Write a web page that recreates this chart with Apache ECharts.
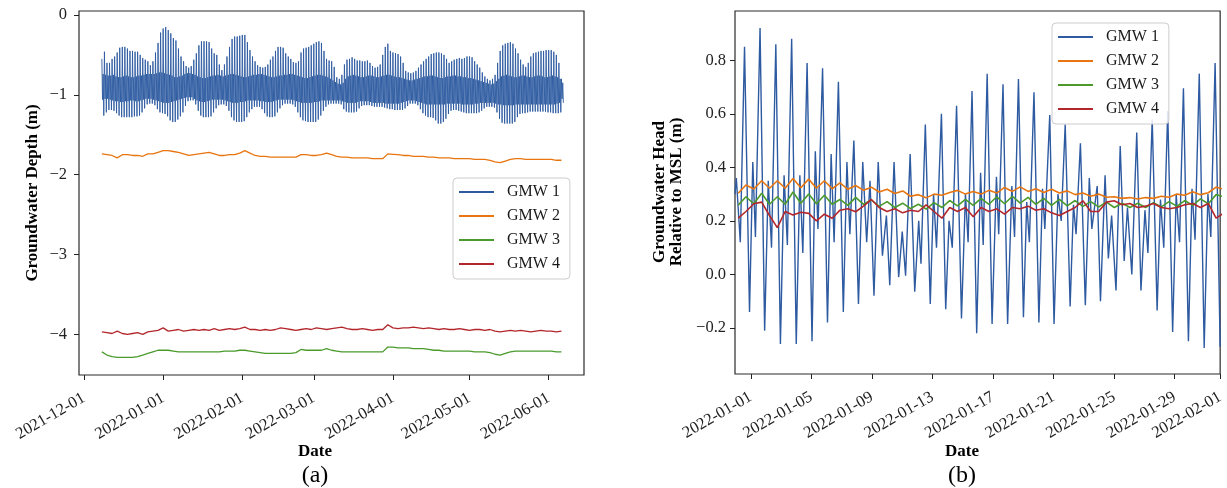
<!DOCTYPE html>
<html><head><meta charset="utf-8">
<script src="https://cdn.jsdelivr.net/npm/echarts@6/dist/echarts.min.js"></script>
<style>html,body{margin:0;padding:0;background:#fff}#c{width:1227px;height:488px}</style>
</head><body><div id="c"></div>
<script>
// ---------- shared ----------
const seriesNames = ['GMW 1', 'GMW 2', 'GMW 3', 'GMW 4'];
const colors = ['#2d5aa0', '#e8750f', '#4a9a2c', '#b3262b'];

// ---------- panel (a): daily values from 2021-12-08 to 2022-06-06 ----------
const aFirstDay = '2021-12-08';
// GMW 1 daily tidal extremes: upper spike, secondary low, secondary high, lower spike
const aHigh = [
-0.55,-0.46,-0.60,-0.60,-0.55,-0.52,-0.47,-0.41,-0.40,-0.40,
-0.42,-0.45,-0.45,-0.46,-0.46,-0.50,-0.54,-0.56,-0.58,-0.63,
-0.58,-0.47,-0.35,-0.22,-0.17,-0.15,-0.19,-0.23,-0.29,-0.32,
-0.42,-0.52,-0.58,-0.64,-0.66,-0.64,-0.56,-0.48,-0.38,-0.33,
-0.33,-0.33,-0.34,-0.42,-0.48,-0.50,-0.62,-0.69,-0.62,-0.52,
-0.40,-0.30,-0.27,-0.27,-0.26,-0.25,-0.25,-0.34,-0.44,-0.52,
-0.58,-0.63,-0.65,-0.66,-0.65,-0.62,-0.56,-0.52,-0.45,-0.40,
-0.40,-0.41,-0.48,-0.52,-0.55,-0.59,-0.60,-0.58,-0.47,-0.42,
-0.41,-0.40,-0.38,-0.36,-0.34,-0.33,-0.35,-0.45,-0.55,-0.57,
-0.58,-0.65,-0.78,-0.80,-0.75,-0.62,-0.56,-0.55,-0.53,-0.55,
-0.57,-0.57,-0.58,-0.58,-0.57,-0.60,-0.64,-0.66,-0.65,-0.62,
-0.50,-0.40,-0.36,-0.45,-0.47,-0.48,-0.49,-0.52,-0.60,-0.70,
-0.72,-0.73,-0.72,-0.70,-0.66,-0.62,-0.58,-0.55,-0.52,-0.49,
-0.48,-0.47,-0.47,-0.48,-0.50,-0.55,-0.60,-0.58,-0.56,-0.55,
-0.54,-0.55,-0.54,-0.52,-0.52,-0.53,-0.58,-0.62,-0.66,-0.72,
-0.77,-0.80,-0.82,-0.80,-0.75,-0.60,-0.45,-0.38,-0.36,-0.35,
-0.34,-0.36,-0.42,-0.48,-0.56,-0.62,-0.65,-0.60,-0.52,-0.48,
-0.47,-0.46,-0.45,-0.45,-0.44,-0.44,-0.44,-0.46,-0.50,-0.60,
-0.80];
const aCoreLow = [
-1.06,-1.05,-1.05,-1.06,-1.07,-1.08,-1.08,-1.09,-1.09,-1.08,
-1.08,-1.07,-1.07,-1.08,-1.08,-1.07,-1.06,-1.05,-1.05,-1.05,
-1.06,-1.07,-1.08,-1.09,-1.10,-1.10,-1.10,-1.09,-1.08,-1.07,
-1.06,-1.05,-1.04,-1.03,-1.03,-1.03,-1.05,-1.07,-1.08,-1.09,
-1.09,-1.08,-1.07,-1.06,-1.06,-1.06,-1.06,-1.06,-1.07,-1.08,
-1.09,-1.10,-1.10,-1.10,-1.09,-1.09,-1.08,-1.07,-1.07,-1.07,
-1.07,-1.07,-1.08,-1.08,-1.09,-1.09,-1.09,-1.08,-1.07,-1.06,
-1.06,-1.06,-1.06,-1.06,-1.06,-1.07,-1.08,-1.09,-1.10,-1.10,
-1.10,-1.10,-1.10,-1.09,-1.09,-1.08,-1.07,-1.07,-1.07,-1.07,
-1.07,-1.07,-1.07,-1.07,-1.08,-1.09,-1.10,-1.10,-1.10,-1.10,
-1.09,-1.08,-1.08,-1.08,-1.08,-1.09,-1.10,-1.10,-1.10,-1.10,
-1.10,-1.11,-1.11,-1.11,-1.11,-1.11,-1.11,-1.10,-1.09,-1.08,
-1.07,-1.07,-1.07,-1.08,-1.09,-1.10,-1.11,-1.12,-1.12,-1.12,
-1.12,-1.12,-1.12,-1.12,-1.12,-1.11,-1.11,-1.11,-1.11,-1.11,
-1.11,-1.12,-1.12,-1.12,-1.12,-1.12,-1.11,-1.11,-1.10,-1.10,
-1.10,-1.10,-1.10,-1.10,-1.11,-1.12,-1.12,-1.13,-1.13,-1.13,
-1.13,-1.13,-1.12,-1.12,-1.12,-1.12,-1.12,-1.12,-1.12,-1.12,
-1.12,-1.12,-1.12,-1.12,-1.12,-1.12,-1.12,-1.12,-1.11,-1.10,
-1.05];
const aCoreHigh = [
-0.74,-0.75,-0.76,-0.76,-0.75,-0.77,-0.78,-0.78,-0.77,-0.76,
-0.77,-0.78,-0.78,-0.77,-0.76,-0.76,-0.75,-0.74,-0.74,-0.74,
-0.74,-0.73,-0.72,-0.72,-0.73,-0.74,-0.75,-0.76,-0.78,-0.78,
-0.77,-0.76,-0.74,-0.73,-0.73,-0.74,-0.75,-0.77,-0.78,-0.79,
-0.79,-0.78,-0.77,-0.76,-0.76,-0.75,-0.76,-0.77,-0.76,-0.75,
-0.74,-0.74,-0.75,-0.76,-0.77,-0.78,-0.78,-0.77,-0.76,-0.75,
-0.75,-0.74,-0.74,-0.75,-0.76,-0.77,-0.78,-0.78,-0.77,-0.76,
-0.76,-0.75,-0.75,-0.74,-0.74,-0.75,-0.76,-0.77,-0.78,-0.79,
-0.79,-0.78,-0.77,-0.76,-0.75,-0.75,-0.76,-0.77,-0.78,-0.80,
-0.82,-0.84,-0.86,-0.87,-0.85,-0.80,-0.77,-0.76,-0.75,-0.76,
-0.77,-0.78,-0.78,-0.77,-0.76,-0.76,-0.77,-0.78,-0.78,-0.77,
-0.76,-0.75,-0.75,-0.76,-0.77,-0.78,-0.78,-0.79,-0.80,-0.81,
-0.82,-0.82,-0.81,-0.80,-0.79,-0.78,-0.77,-0.77,-0.76,-0.76,
-0.77,-0.78,-0.79,-0.79,-0.78,-0.77,-0.77,-0.76,-0.76,-0.77,
-0.77,-0.78,-0.78,-0.79,-0.79,-0.80,-0.81,-0.82,-0.83,-0.84,
-0.85,-0.86,-0.87,-0.86,-0.83,-0.80,-0.77,-0.76,-0.75,-0.76,
-0.77,-0.78,-0.78,-0.77,-0.76,-0.76,-0.77,-0.78,-0.78,-0.77,
-0.76,-0.76,-0.77,-0.78,-0.78,-0.77,-0.76,-0.77,-0.78,-0.80,
-0.85];
const aLow = [
-1.26,-1.22,-1.19,-1.19,-1.20,-1.23,-1.26,-1.28,-1.28,-1.28,
-1.28,-1.28,-1.27,-1.27,-1.26,-1.22,-1.17,-1.12,-1.11,-1.11,
-1.13,-1.18,-1.22,-1.23,-1.24,-1.27,-1.32,-1.34,-1.34,-1.31,
-1.27,-1.22,-1.14,-1.08,-1.07,-1.07,-1.12,-1.20,-1.26,-1.28,
-1.28,-1.28,-1.27,-1.22,-1.17,-1.13,-1.12,-1.12,-1.14,-1.20,
-1.28,-1.32,-1.34,-1.34,-1.34,-1.33,-1.28,-1.22,-1.18,-1.15,
-1.15,-1.15,-1.18,-1.23,-1.27,-1.28,-1.28,-1.27,-1.22,-1.17,
-1.13,-1.11,-1.11,-1.11,-1.12,-1.15,-1.22,-1.28,-1.32,-1.33,
-1.34,-1.34,-1.34,-1.34,-1.31,-1.26,-1.20,-1.15,-1.12,-1.11,
-1.11,-1.11,-1.11,-1.12,-1.18,-1.21,-1.22,-1.22,-1.22,-1.21,
-1.17,-1.14,-1.13,-1.13,-1.13,-1.14,-1.15,-1.15,-1.15,-1.15,
-1.16,-1.17,-1.18,-1.18,-1.19,-1.19,-1.19,-1.19,-1.17,-1.14,
-1.11,-1.11,-1.11,-1.13,-1.18,-1.23,-1.26,-1.28,-1.28,-1.29,
-1.32,-1.36,-1.36,-1.34,-1.30,-1.24,-1.20,-1.19,-1.19,-1.20,
-1.21,-1.22,-1.23,-1.23,-1.23,-1.23,-1.23,-1.22,-1.20,-1.17,
-1.15,-1.15,-1.15,-1.16,-1.22,-1.30,-1.35,-1.36,-1.36,-1.36,
-1.36,-1.34,-1.28,-1.24,-1.23,-1.23,-1.22,-1.21,-1.21,-1.21,
-1.21,-1.21,-1.21,-1.21,-1.22,-1.22,-1.23,-1.23,-1.23,-1.22,
-1.10];
// GMW 2-4 every second day from 2021-12-08
const aGMW2 = [
-1.74,-1.75,-1.76,-1.79,-1.75,-1.75,-1.76,-1.76,-1.77,-1.74,
-1.74,-1.72,-1.70,-1.70,-1.71,-1.72,-1.74,-1.76,-1.75,-1.74,
-1.73,-1.72,-1.74,-1.76,-1.76,-1.75,-1.75,-1.73,-1.70,-1.73,
-1.76,-1.77,-1.77,-1.78,-1.78,-1.78,-1.78,-1.78,-1.78,-1.75,
-1.75,-1.76,-1.76,-1.75,-1.73,-1.75,-1.77,-1.78,-1.78,-1.79,
-1.79,-1.79,-1.79,-1.80,-1.80,-1.80,-1.74,-1.745,-1.75,-1.76,
-1.76,-1.77,-1.77,-1.77,-1.78,-1.78,-1.79,-1.79,-1.79,-1.80,
-1.80,-1.80,-1.80,-1.81,-1.81,-1.81,-1.82,-1.84,-1.85,-1.83,
-1.81,-1.80,-1.80,-1.81,-1.81,-1.81,-1.81,-1.81,-1.81,-1.82,
-1.82];
const aGMW3 = [
-4.22,-4.26,-4.28,-4.29,-4.29,-4.29,-4.29,-4.28,-4.26,-4.24,
-4.22,-4.20,-4.20,-4.20,-4.21,-4.22,-4.22,-4.22,-4.22,-4.22,
-4.22,-4.22,-4.22,-4.22,-4.21,-4.21,-4.21,-4.20,-4.20,-4.21,
-4.22,-4.23,-4.24,-4.24,-4.24,-4.24,-4.24,-4.24,-4.23,-4.19,
-4.20,-4.20,-4.20,-4.20,-4.18,-4.20,-4.21,-4.22,-4.22,-4.22,
-4.22,-4.22,-4.22,-4.22,-4.22,-4.22,-4.16,-4.16,-4.17,-4.17,
-4.17,-4.18,-4.18,-4.18,-4.19,-4.20,-4.20,-4.21,-4.21,-4.21,
-4.21,-4.21,-4.21,-4.22,-4.22,-4.22,-4.23,-4.25,-4.26,-4.24,
-4.22,-4.21,-4.21,-4.21,-4.21,-4.21,-4.21,-4.21,-4.21,-4.22,
-4.22];
const aGMW4 = [
-3.97,-3.98,-3.99,-3.96,-3.99,-4.00,-3.99,-3.98,-4.00,-3.97,
-3.96,-3.95,-3.92,-3.96,-3.95,-3.94,-3.96,-3.95,-3.94,-3.95,
-3.94,-3.95,-3.93,-3.95,-3.94,-3.93,-3.94,-3.93,-3.91,-3.94,
-3.94,-3.95,-3.94,-3.95,-3.94,-3.92,-3.93,-3.94,-3.95,-3.94,
-3.93,-3.94,-3.92,-3.93,-3.94,-3.93,-3.92,-3.91,-3.93,-3.94,
-3.94,-3.93,-3.94,-3.95,-3.94,-3.94,-3.88,-3.92,-3.93,-3.92,
-3.92,-3.91,-3.92,-3.93,-3.92,-3.93,-3.94,-3.93,-3.94,-3.94,
-3.93,-3.94,-3.95,-3.94,-3.94,-3.95,-3.94,-3.96,-3.97,-3.96,
-3.95,-3.96,-3.95,-3.96,-3.97,-3.96,-3.95,-3.96,-3.96,-3.97,
-3.96];
const aTickDates = ['2021-12-01','2022-01-01','2022-02-01','2022-03-01','2022-04-01','2022-05-01','2022-06-01'];
const aYTicks = [-4, -3, -2, -1, 0];

// ---------- panel (b): January 2022 ----------
const bStart = '2021-12-30T23:00:00Z';
// GMW 1 turning points: hours after bStart and head (m)
const bHours = [
0,2.1,8.4,15.1,23.0,28.2,32.4,39.7,47.0,52.7,
57.9,64.7,72.0,77.8,83.0,89.8,97.1,102.8,107.5,114.3,
122.1,127.3,131.5,138.8,146.6,152.4,157.1,163.9,171.7,177.4,
182.1,188.4,195.7,202.5,208.7,214.0,220.3,227.0,233.7,240.0,
245.3,252.1,259.4,265.1,270.4,277.6,284.9,291.2,294.8,301.7,
309.5,314.7,319.4,327.2,334.0,339.3,344.4,351.2,359.0,365.3,
369.5,375.7,383.1,389.3,393.4,399.7,407.5,414.4,418.0,424.8,
432.1,438.8,443.1,449.3,457.2,462.4,466.6,473.9,481.7,487.4,
491.1,498.9,505.7,511.9,517.1,523.4,531.2,536.5,540.6,547.5,
555.3,561.6,565.6,574.1,579.3,586.6,591.8,597.0,603.9,610.6,
616.9,622.1,629.0,636.8,643.5,649.8,654.5,661.3,669.1,674.4,
679.6,685.9,693.7,699.3,704.6,710.8,718.7,724.4,729.2,735.9,
743.7,749.6,754.2,761.0,769.0];
const bGMW1 = [
0.30,0.36,0.12,0.85,-0.14,0.42,0.14,0.92,-0.21,0.35,
0.10,0.86,-0.26,0.37,0.11,0.88,-0.26,0.37,0.08,0.79,
-0.25,0.46,0.17,0.77,-0.18,0.45,0.12,0.72,-0.14,0.42,
0.15,0.50,-0.11,0.42,0.12,0.35,-0.08,0.42,0.07,0.22,
-0.04,0.42,-0.01,0.16,-0.005,0.45,-0.065,0.20,0.04,0.56,
-0.11,0.30,0.10,0.60,-0.13,0.20,0.10,0.63,-0.165,0.30,
0.12,0.685,-0.22,0.38,0.11,0.75,-0.185,0.365,0.15,0.71,
-0.185,0.33,0.14,0.73,-0.16,0.27,0.12,0.68,-0.18,0.32,
0.17,0.595,-0.185,0.30,0.20,0.56,-0.12,0.26,0.15,0.49,
-0.115,0.36,0.17,0.33,-0.10,0.37,0.06,0.22,-0.06,0.48,
0.05,0.25,0.00,0.53,-0.06,0.24,0.08,0.58,-0.135,0.28,
0.10,0.61,-0.215,0.30,0.12,0.695,-0.25,0.32,0.13,0.75,
-0.275,0.30,0.14,0.79,-0.27];
// GMW 2-4 read every half tidal cycle (12.42 h) starting 5 h after bStart
const bStepHours = 12.42;
const bFirstHour = 5;
const bGMW2 = [
0.303,0.334,0.319,0.350,0.322,0.350,0.322,0.358,0.324,0.356,
0.322,0.350,0.320,0.342,0.318,0.332,0.314,0.326,0.308,0.318,
0.302,0.312,0.292,0.298,0.286,0.300,0.296,0.306,0.314,0.300,
0.310,0.300,0.314,0.304,0.325,0.310,0.327,0.310,0.320,0.306,
0.318,0.304,0.312,0.298,0.304,0.292,0.300,0.288,0.290,0.284,
0.287,0.282,0.287,0.284,0.292,0.288,0.300,0.296,0.309,0.298,
0.305,0.326,0.318];
const bGMW3 = [
0.259,0.290,0.264,0.303,0.262,0.290,0.262,0.308,0.266,0.300,
0.264,0.296,0.262,0.280,0.258,0.288,0.262,0.278,0.254,0.272,
0.250,0.266,0.246,0.262,0.244,0.268,0.250,0.276,0.256,0.280,
0.258,0.284,0.262,0.290,0.264,0.292,0.266,0.288,0.262,0.284,
0.258,0.280,0.256,0.276,0.254,0.272,0.252,0.270,0.250,0.266,
0.250,0.266,0.250,0.268,0.252,0.272,0.254,0.276,0.258,0.282,
0.264,0.298,0.290];
const bGMW4 = [
0.210,0.235,0.264,0.270,0.220,0.175,0.235,0.222,0.232,0.228,
0.200,0.225,0.210,0.240,0.245,0.234,0.255,0.280,0.250,0.235,
0.245,0.230,0.240,0.235,0.260,0.235,0.210,0.250,0.235,0.250,
0.215,0.250,0.235,0.245,0.225,0.250,0.245,0.255,0.240,0.245,
0.230,0.220,0.235,0.250,0.275,0.235,0.235,0.270,0.275,0.260,
0.265,0.250,0.255,0.265,0.250,0.245,0.250,0.260,0.265,0.250,
0.265,0.210,0.230];
const bTickDates = ['2022-01-01','2022-01-05','2022-01-09','2022-01-13','2022-01-17','2022-01-21','2022-01-25','2022-01-29','2022-02-01'];
const bYTicks = [-0.2, 0.0, 0.2, 0.4, 0.6, 0.8];

// ---------- build ----------
const DAY = 86400000, HOUR = 3600000;
const ts = s => Date.parse(s.length === 10 ? s + 'T00:00:00Z' : s);
const a0 = ts(aFirstDay);
const aG1 = [];
for (let i = 0; i < aHigh.length; i++) {
  aG1.push([a0 + i * DAY, aHigh[i]]);
  aG1.push([a0 + (i + 0.25) * DAY, aCoreLow[i]]);
  aG1.push([a0 + (i + 0.5) * DAY, aCoreHigh[i]]);
  aG1.push([a0 + (i + 0.75) * DAY, aLow[i]]);
}
const every2 = arr => arr.map((v, i) => [a0 + 2 * i * DAY, v]);
const b0 = ts(bStart);
const bG1 = bGMW1.map((v, i) => [b0 + bHours[i] * HOUR, v]);
const half = arr => arr.map((v, i) => [b0 + (bFirstHour + bStepHours * i) * HOUR, v]);

const fmtDate = v => { const d = new Date(v); return d.getUTCFullYear() + '-' + String(d.getUTCMonth() + 1).padStart(2, '0') + '-' + String(d.getUTCDate()).padStart(2, '0'); };
const minus = s => s.replace('-', '\u2212');
const FONT = '"Liberation Serif", "Times New Roman", serif';
const ink = '#222';
const TICK_FS = 16.5;

function xAxisCfg(idx, min, max, ticks) {
  const tv = ticks.map(ts);
  return {
    type: 'value', gridIndex: idx, min: min, max: max, scale: true,
    axisLine: { show: false, onZero: false },
    axisTick: { show: true, customValues: tv, length: 5, lineStyle: { color: ink, width: 1 } },
    axisLabel: { customValues: tv, formatter: v => fmtDate(v), rotate: 30, margin: 22, fontFamily: FONT, fontSize: TICK_FS, color: ink, hideOverlap: false },
    splitLine: { show: false }
  };
}
function yAxisCfg(idx, min, max, ticks, dec, margin) {
  return {
    type: 'value', gridIndex: idx, min: min, max: max,
    axisLine: { show: false, onZero: false },
    axisTick: { show: true, customValues: ticks, length: 5, lineStyle: { color: ink, width: 1 } },
    axisLabel: { customValues: ticks, formatter: v => minus(Number(v).toFixed(dec)), margin: margin, fontFamily: FONT, fontSize: TICK_FS, color: ink },
    splitLine: { show: false }
  };
}
function lineSeries(name, ci, xi, data, w) {
  return { type: 'line', name: name, xAxisIndex: xi, yAxisIndex: xi, data: data, showSymbol: false, symbol: 'none',
    lineStyle: { color: colors[ci], width: w }, itemStyle: { color: colors[ci] }, animation: false, silent: true, z: 2 + ci };
}
function legendCfg(left, top) {
  return {
    orient: 'vertical', left: left, top: top, data: seriesNames,
    icon: 'rect', itemWidth: 35, itemHeight: 2, itemGap: 8,
    padding: [6, 10, 7, 6], backgroundColor: 'rgba(255,255,255,0.85)',
    borderColor: '#cccccc', borderWidth: 1, borderRadius: 4,
    textStyle: { fontFamily: FONT, fontSize: 16, color: '#1a1a1a', lineHeight: 16, padding: [0, 0, 0, 8] },
    selectedMode: false, z: 20
  };
}
function txt(text, x, y, font, rot) {
  return { type: 'text', x: x, y: y, rotation: rot || 0, silent: true, z: 30,
    style: { text: text, font: font, textAlign: 'center', textVerticalAlign: 'middle', fill: '#000' } };
}

const option = {
  animation: false,
  backgroundColor: '#fff',
  grid: [
    { left: 79, top: 11, width: 505, height: 364, show: true, borderColor: '#2a2a2a', borderWidth: 1.2, backgroundColor: 'transparent' },
    { left: 735, top: 11, width: 491, height: 363, show: true, borderColor: '#2a2a2a', borderWidth: 1.2, backgroundColor: 'transparent' }
  ],
  xAxis: [
    xAxisCfg(0, ts('2021-11-29T01:00:00Z'), ts('2022-06-14T20:00:00Z'), aTickDates),
    xAxisCfg(1, b0, ts('2022-02-01'), bTickDates)
  ],
  yAxis: [
    yAxisCfg(0, -4.51, 0.05, aYTicks, 0, 12),
    yAxisCfg(1, -0.372, 0.984, bYTicks, 1, 9)
  ],
  legend: [legendCfg(453, 178), legendCfg(1052, 23)],
  series: [
    lineSeries('GMW 1', 0, 0, aG1, 0.9),
    lineSeries('GMW 2', 1, 0, every2(aGMW2), 1.3),
    lineSeries('GMW 3', 2, 0, every2(aGMW3), 1.3),
    lineSeries('GMW 4', 3, 0, every2(aGMW4), 1.3),
    lineSeries('GMW 1', 0, 1, bG1, 1.4),
    lineSeries('GMW 2', 1, 1, half(bGMW2), 1.6),
    lineSeries('GMW 3', 2, 1, half(bGMW3), 1.6),
    lineSeries('GMW 4', 3, 1, half(bGMW4), 1.6)
  ],
  graphic: [
    txt('Groundwater Depth (m)', 33, 193, 'bold 17px ' + FONT, Math.PI / 2),
    txt('Groundwater Head', 660, 192, 'bold 17px ' + FONT, Math.PI / 2),
    txt('Relative to MSL (m)', 677, 192, 'bold 17px ' + FONT, Math.PI / 2),
    txt('Date', 315, 452, 'bold 17px ' + FONT),
    txt('Date', 962, 452, 'bold 17px ' + FONT),
    txt('(a)', 315, 476, '24px ' + FONT),
    txt('(b)', 962, 476, '24px ' + FONT)
  ]
};
const chart = echarts.init(document.getElementById('c'), null, { renderer: 'canvas' });
chart.setOption(option);
</script>
</body></html>
